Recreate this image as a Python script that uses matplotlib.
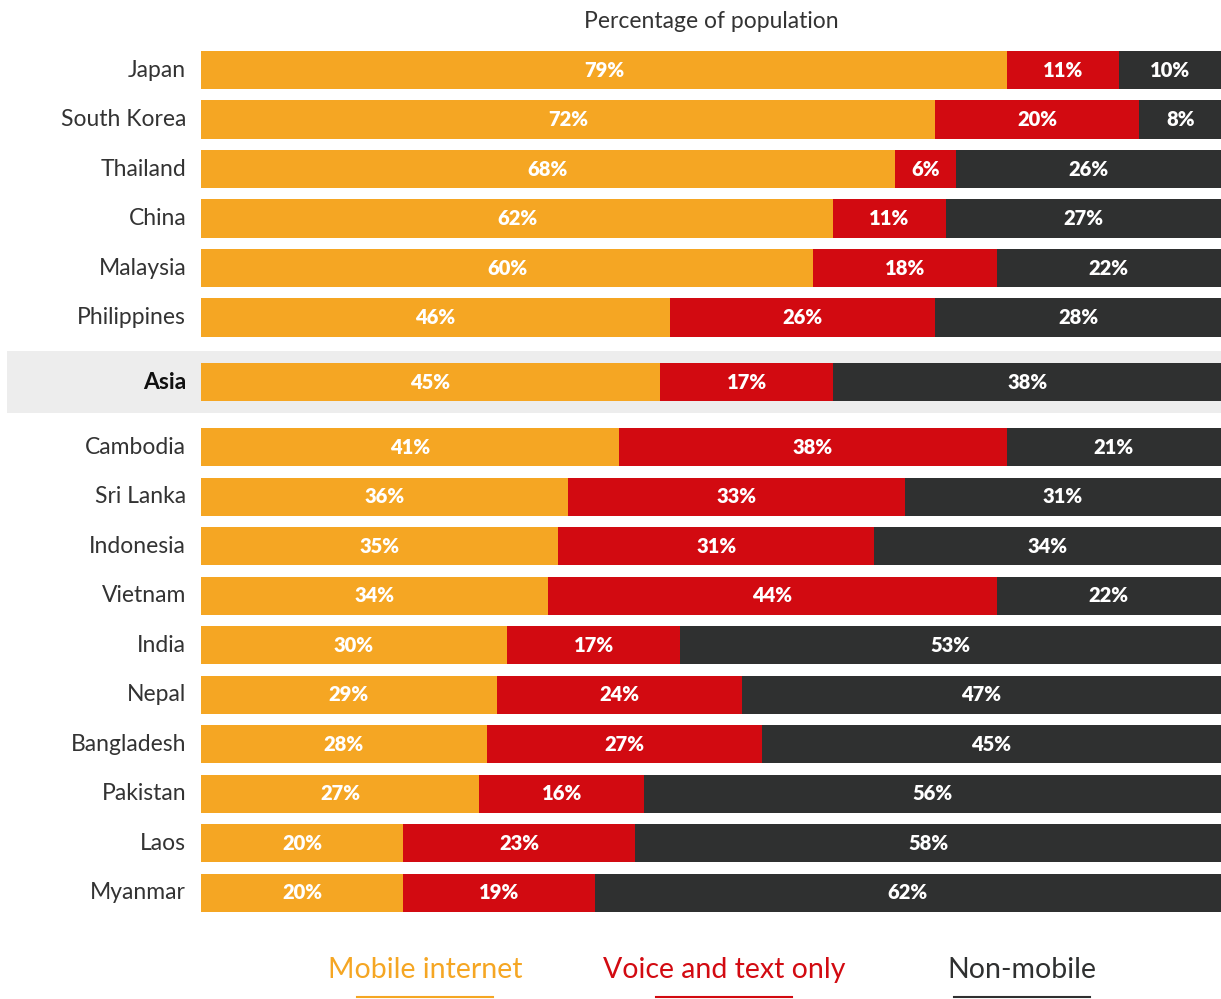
import matplotlib.pyplot as plt
import matplotlib.transforms as mtransforms
from matplotlib.patches import Rectangle

plt.rcParams['font.family'] = ['Lato', 'DejaVu Sans']

countries = ["Japan", "South Korea", "Thailand", "China", "Malaysia", "Philippines",
             "Asia",
             "Cambodia", "Sri Lanka", "Indonesia", "Vietnam", "India", "Nepal",
             "Bangladesh", "Pakistan", "Laos", "Myanmar"]
mobile_internet = [79, 72, 68, 62, 60, 46, 45, 41, 36, 35, 34, 30, 29, 28, 27, 20, 20]
voice_text = [11, 20, 6, 11, 18, 26, 17, 38, 33, 31, 44, 17, 24, 27, 16, 23, 19]
non_mobile = [10, 8, 26, 27, 22, 28, 38, 21, 31, 34, 22, 53, 47, 45, 56, 58, 62]

series_names = ["Mobile internet", "Voice and text only", "Non-mobile"]
colors = ["#F5A623", "#D20A11", "#2F3030"]

# row positions: a gap around the Asia row
gap = 1.31
ypos = []
for i in range(len(countries)):
    if i < 6:
        ypos.append(i)
    elif i == 6:
        ypos.append(5 + gap)
    else:
        ypos.append(5 + 2 * gap + (i - 7))

# rounded labels don't always sum to 100, so scale widths per row
totals = [a + b + c for a, b, c in zip(mobile_internet, voice_text, non_mobile)]

W, H = 1221, 999
fig = plt.figure(figsize=(W / 100, H / 100), dpi=100)
step = 49.5
y0 = 70
ax = fig.add_axes([201 / W, 0, 1 - 201 / W, 1])
ax.set_xlim(0, 100)
ax.set_ylim((H - y0) / step, -y0 / step)
ax.axis("off")

# grey band behind Asia
trans = mtransforms.blended_transform_factory(fig.transFigure, ax.transData)
asia_y = ypos[6]
ax.add_patch(Rectangle((7 / W, asia_y - 0.626), 1 - 7 / W, 1.252, transform=trans,
                       facecolor="#EDEDED", edgecolor="none", clip_on=False, zorder=0))

left = [0] * len(countries)
for vals, col in zip([mobile_internet, voice_text, non_mobile], colors):
    widths = [v * 100 / t for v, t in zip(vals, totals)]
    bars = ax.barh(ypos, widths, left=left, height=0.77, color=col, zorder=2)
    for b, v, w, l in zip(bars, vals, widths, left):
        ax.text(l + w / 2, b.get_y() + b.get_height() / 2, f"{v}%", ha="center",
                va="center", color="white", fontsize=14.5, fontweight="heavy", zorder=3)
    left = [a + b for a, b in zip(left, widths)]

for i, (c, y) in enumerate(zip(countries, ypos)):
    ax.text(-1.45, y, c, ha="right", va="center", fontsize=16.5,
            color="#111111" if i == 6 else "#333333",
            fontweight="bold" if i == 6 else "normal")

fig.text(711 / W, 1 - 22 / H, "Percentage of population", ha="center", va="center",
         fontsize=16.5, color="#333333")

leg_x = [425, 724, 1022]
for name, col, x in zip(series_names, colors, leg_x):
    fig.text(x / W, 1 - 970 / H, name, ha="center", va="center", fontsize=20.5,
             color=col)
    fig.add_artist(plt.Line2D([(x - 68) / W, (x + 68) / W], [1 - 997 / H] * 2,
                              color=col, lw=1.5))

fig.savefig("out.png", dpi=100)
